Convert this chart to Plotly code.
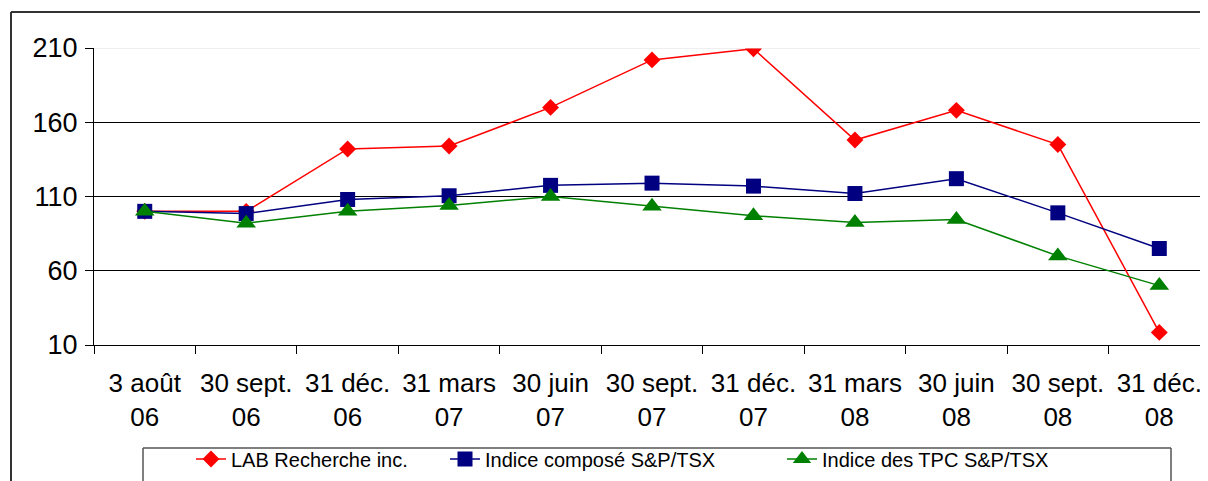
import plotly.graph_objects as go

categories = ["3 août<br>06", "30 sept.<br>06", "31 déc.<br>06", "31 mars<br>07", "30 juin<br>07",
              "30 sept.<br>07", "31 déc.<br>07", "31 mars<br>08", "30 juin<br>08", "30 sept.<br>08",
              "31 déc.<br>08"]
lab = [100, 100, 142, 144, 170, 202, 209.5, 148, 168, 145, 18.5]
composite = [100, 98.5, 108, 110.5, 117.5, 119, 117, 112, 122, 99, 75]
tpc = [100, 92, 100, 104, 110, 103.5, 97, 92.5, 94.5, 70, 50]
y_ticks = [10, 60, 110, 160, 210]

# The page body has an 8px margin; the figure is sized to fill the rest of the window.
OFF = 8
W, H = 1208 - OFF, 481 - OFF
L, R, T = 94 - OFF, 0, 48 - OFF
B = H - (345 - OFF)
pw = W - L - R
ph = H - T - B


def px_x(p):  # p: screen pixel x
    return (p - OFF - L) / pw


def px_y(p):  # p: screen pixel y
    return (H - B - (p - OFF)) / ph


FONT = "Liberation Sans, Arial, sans-serif"

fig = go.Figure()
fig.add_trace(go.Scatter(x=categories, y=lab, name="LAB Recherche inc.", mode="lines+markers",
                         line=dict(color="#FF0000", width=1.5),
                         marker=dict(symbol="diamond", size=13, color="#FF0000"), legend="legend"))
fig.add_trace(go.Scatter(x=categories, y=composite, name="Indice composé S&P/TSX", mode="lines+markers",
                         line=dict(color="#000080", width=1.5),
                         marker=dict(symbol="square", size=15, color="#000080"), legend="legend2"))
fig.add_trace(go.Scatter(x=categories, y=tpc, name="Indice des TPC S&P/TSX", mode="lines+markers",
                         line=dict(color="#008000", width=1.5),
                         marker=dict(symbol="triangle-up", size=17, color="#008000"), legend="legend3"))

leg_common = dict(orientation="h", yanchor="middle", xanchor="left", bgcolor="rgba(0,0,0,0)",
                  borderwidth=0, font=dict(family=FONT, size=20, color="#000"))
ly = px_y(459)

border = dict(color="#333", width=2)
legbox = dict(color="#555", width=1.5)

fig.update_layout(
    width=W, height=H,
    margin=dict(l=L, r=R, t=T, b=B, pad=0, autoexpand=False),
    paper_bgcolor="white", plot_bgcolor="white",
    font=dict(family=FONT, color="#000"),
    showlegend=True,
    legend=dict(x=px_x(191), y=ly, **leg_common),
    legend2=dict(x=px_x(445), y=ly, **leg_common),
    legend3=dict(x=px_x(782), y=ly, **leg_common),
    xaxis=dict(type="category", range=[-0.5, 10.48], tickson="boundaries", ticks="outside",
               ticklen=8, tickcolor="#000", showline=True, linecolor="#000", linewidth=1,
               showgrid=False, tickfont=dict(size=26, family=FONT, color="#000"),
               tickangle=0, automargin=False,
               ticklabelstandoff=15, fixedrange=True),
    yaxis=dict(range=[10, 210], tickvals=y_ticks, ticks="outside", ticklen=8, tickcolor="#000",
               showline=True, linecolor="#000", linewidth=1, showgrid=True, gridcolor="#000",
               gridwidth=1, zeroline=False, tickfont=dict(size=27, family=FONT, color="#000"),
               automargin=False, ticklabelstandoff=2, fixedrange=True),
    shapes=[
        # light top gridline
        dict(type="line", xref="paper", yref="y", x0=0, x1=1, y0=210, y1=210,
             line=dict(color="#E0E0E0", width=1), layer="above"),
        # outer chart border (left and top edges; the rest lies outside the picture)
        dict(type="line", xref="paper", yref="paper", x0=px_x(11), x1=px_x(11), y0=px_y(12), y1=px_y(490),
             line=border, layer="below"),
        dict(type="line", xref="paper", yref="paper", x0=px_x(11), x1=px_x(1208), y0=px_y(12), y1=px_y(12),
             line=border, layer="below"),
        # legend box (left, top, right edges)
        dict(type="line", xref="paper", yref="paper", x0=px_x(143), x1=px_x(143), y0=px_y(448), y1=px_y(490),
             line=legbox, layer="below"),
        dict(type="line", xref="paper", yref="paper", x0=px_x(143), x1=px_x(1171), y0=px_y(448), y1=px_y(448),
             line=legbox, layer="below"),
        dict(type="line", xref="paper", yref="paper", x0=px_x(1171), x1=px_x(1171), y0=px_y(448), y1=px_y(490),
             line=legbox, layer="below"),
    ],
)

fig.write_html("out.html")
